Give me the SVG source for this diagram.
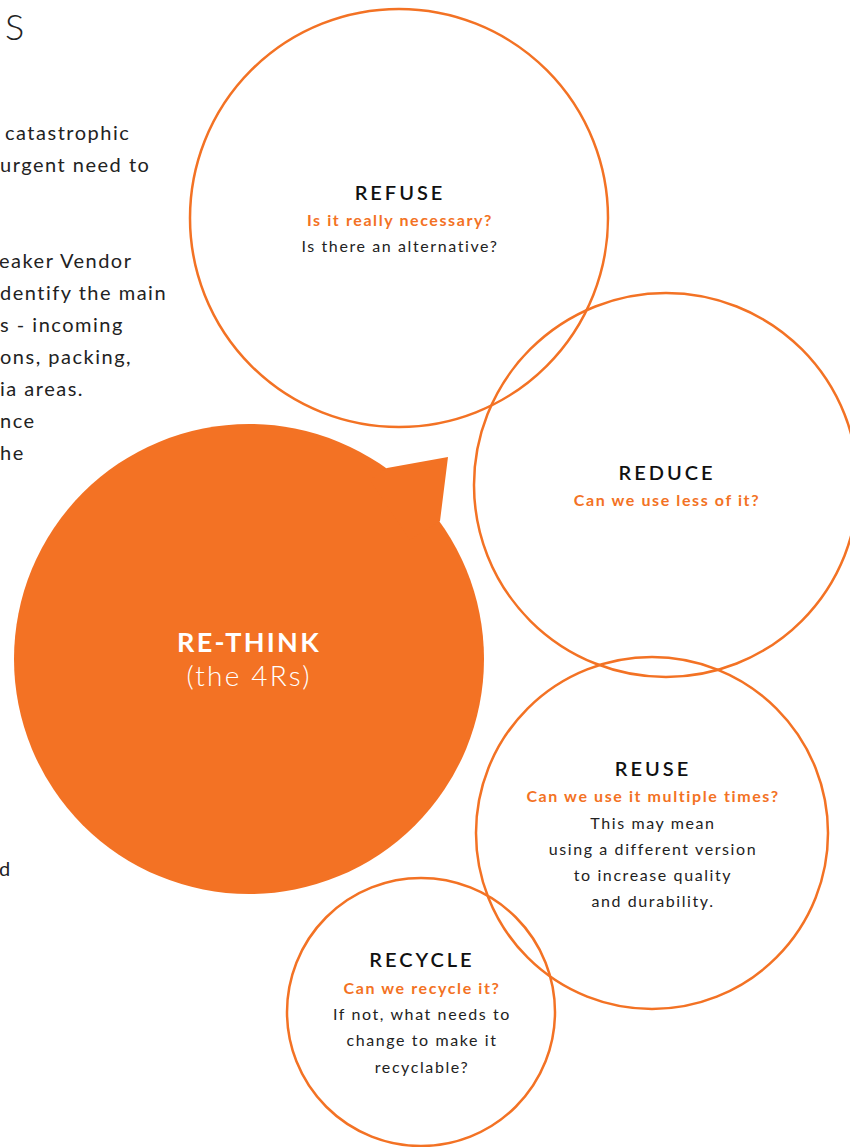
<svg xmlns="http://www.w3.org/2000/svg" width="850" height="1147" viewBox="0 0 850 1147">
<style>
.ring{fill:none;stroke:#F37224;stroke-width:2.5}
.body{font-family:Lato,"Liberation Sans",sans-serif;font-size:20px;fill:#222;letter-spacing:1.5px}
.title{font-family:Lato,"Liberation Sans",sans-serif;font-size:20px;font-weight:600;fill:#111;letter-spacing:3px;text-anchor:middle}
.q{font-family:Lato,"Liberation Sans",sans-serif;font-size:16px;font-weight:700;fill:#F37224;letter-spacing:1.6px;text-anchor:middle}
.t{font-family:Lato,"Liberation Sans",sans-serif;font-size:16px;fill:#222;letter-spacing:1.6px;text-anchor:middle}
</style>
<rect width="850" height="1147" fill="#fff"/>
<g id="page-text">
<text x="5" y="40" font-family="Lato,'Liberation Sans',sans-serif" font-size="36" font-weight="300" fill="#222">S</text>
<text class="body" x="5" y="140">catastrophic</text>
<text class="body" x="0" y="172">urgent need to</text>
<text class="body" x="-1" y="268">eaker Vendor</text>
<text class="body" x="0" y="300">dentify the main</text>
<text class="body" x="0" y="332">s - incoming</text>
<text class="body" x="0" y="364">ons, packing,</text>
<text class="body" x="0" y="396">ia areas.</text>
<text class="body" x="0" y="428">nce</text>
<text class="body" x="0" y="460">he</text>
<text class="body" x="-1" y="876">d</text>
</g>
<g id="refuse">
<circle class="ring" cx="399" cy="218" r="209"/>
<text class="title" x="400" y="200">REFUSE</text>
<text class="q" x="400" y="226">Is it really necessary?</text>
<text class="t" x="400" y="252">Is there an alternative?</text>
</g>
<g id="reduce">
<circle class="ring" cx="666" cy="485" r="192"/>
<text class="title" x="667" y="480">REDUCE</text>
<text class="q" x="667" y="506">Can we use less of it?</text>
</g>
<g id="reuse">
<circle class="ring" cx="652" cy="833" r="176"/>
<text class="title" x="653" y="776">REUSE</text>
<text class="q" x="653" y="802">Can we use it multiple times?</text>
<text class="t" x="653" y="829">This may mean</text>
<text class="t" x="653" y="855">using a different version</text>
<text class="t" x="653" y="881">to increase quality</text>
<text class="t" x="653" y="907">and durability.</text>
</g>
<g id="recycle">
<circle class="ring" cx="421" cy="1012" r="134"/>
<text class="title" x="422" y="967">RECYCLE</text>
<text class="q" x="422" y="994">Can we recycle it?</text>
<text class="t" x="422" y="1020">If not, what needs to</text>
<text class="t" x="422" y="1046">change to make it</text>
<text class="t" x="422" y="1073">recyclable?</text>
</g>
<g id="rethink">
<circle cx="249" cy="659" r="235" fill="#F37224"/>
<polygon points="370,480 387,468 448,457 440,521 410,540" fill="#F37224"/>
<text x="249" y="652" text-anchor="middle" font-family="Lato,'Liberation Sans',sans-serif" font-size="27" font-weight="700" fill="#fff" letter-spacing="2.3">RE-THINK</text>
<text x="249" y="686" text-anchor="middle" font-family="Lato,'Liberation Sans',sans-serif" font-size="28" font-weight="300" fill="#fff" letter-spacing="2.2">(the 4Rs)</text>
</g>
<g id="connectors"></g>
</svg>
